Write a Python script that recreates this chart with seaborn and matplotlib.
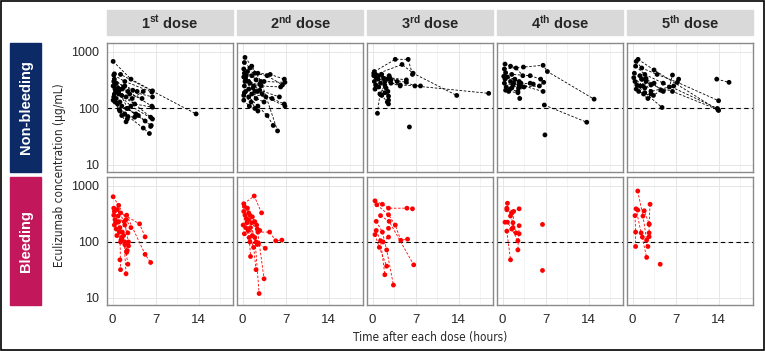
import numpy as np
import pandas as pd
import matplotlib
matplotlib.use("Agg")
import matplotlib.pyplot as plt
import seaborn as sns
from matplotlib.patches import Rectangle
from matplotlib.ticker import LogLocator, NullFormatter

sns.set_style("white")
plt.rcParams["font.family"] = ["Liberation Sans", "DejaVu Sans"]
plt.rcParams["mathtext.fontset"] = "custom"
plt.rcParams["mathtext.rm"] = "Liberation Sans"
plt.rcParams["mathtext.bf"] = "Liberation Sans:bold"

# ---------------------------
# data: one list of (time h, conc ug/mL) per patient, per panel
# ---------------------------
nb_dose1 = [
    [(0.1, 680), (3.0, 330), (6.5, 205)],
    [(0.3, 410), (1.3, 400), (13.6, 80)],
    [(0.2, 390), (2.0, 300), (6.4, 195)],
    [(0.2, 300), (1.5, 220), (6.5, 160)],
    [(0.3, 260), (2.5, 200), (6.4, 110)],
    [(0.1, 250), (1.0, 180), (3.6, 120), (6.5, 105)],
    [(0.4, 220), (2.2, 160), (6.2, 70)],
    [(0.5, 200), (3.0, 110), (6.5, 65)],
    [(0.3, 180), (1.5, 110), (4.2, 75), (6.3, 50)],
    [(0.6, 150), (2.3, 100), (5.3, 60), (6.2, 48)],
    [(0.8, 120), (2.0, 80), (5.0, 45), (6.0, 36)],
    [(0.2, 160), (1.1, 95), (2.4, 65)],
    [(0.4, 130), (1.5, 75), (2.2, 58)],
    [(0.6, 280), (2.0, 250), (4.0, 200)],
    [(0.9, 230), (2.8, 180), (4.8, 150)],
    [(1.0, 200), (2.5, 100), (3.8, 80)],
    [(0.3, 330), (1.8, 240), (3.3, 210)],
    [(1.2, 90), (2.5, 72), (3.6, 70)],
    [(0.1, 140), (1.2, 130)],
    [(1.5, 170), (3.2, 150), (5.0, 200)],
]
nb_dose2 = [
    [(0.4, 800), (1.5, 560), (3.0, 300), (5.7, 40)],
    [(0.3, 650), (1.2, 520), (2.5, 420), (4.5, 400), (6.8, 330)],
    [(0.2, 500), (2.0, 420), (4.0, 380), (6.5, 260)],
    [(0.3, 420), (1.5, 380), (3.5, 300), (6.9, 290)],
    [(0.2, 360), (1.0, 300), (3.0, 250), (6.2, 240)],
    [(0.4, 300), (2.0, 200), (4.8, 150), (6.8, 120)],
    [(0.3, 250), (1.5, 180), (3.8, 160), (6.9, 110)],
    [(0.5, 200), (1.0, 160), (2.5, 110), (4.0, 75), (5.0, 50)],
    [(0.2, 170), (1.4, 130), (2.5, 90)],
    [(0.6, 380), (1.8, 250), (3.2, 180)],
    [(0.8, 450), (2.2, 320), (3.0, 260)],
    [(1.0, 220), (2.2, 150), (3.5, 130)],
    [(0.2, 140), (1.1, 110), (2.0, 100)],
    [(0.5, 330), (2.8, 210), (6.0, 160)],
    [(1.2, 280), (2.4, 200)],
    [(0.3, 190), (1.7, 230), (2.8, 270)],
]
nb_dose3 = [
    [(0.3, 450), (3.7, 740), (5.8, 740), (6.5, 400)],
    [(0.5, 400), (4.8, 600), (6.6, 420), (13.7, 170)],
    [(0.2, 380), (2.5, 330), (5.5, 290), (6.9, 250), (18.9, 185)],
    [(0.6, 350), (2.0, 300), (4.5, 260), (7.8, 250)],
    [(0.3, 300), (1.0, 380), (2.8, 350), (5.5, 320)],
    [(0.8, 82), (1.2, 180), (2.0, 260)],
    [(0.4, 220), (1.5, 170), (2.4, 130)],
    [(0.9, 330), (2.2, 230), (2.6, 120)],
    [(1.3, 280), (2.5, 200), (2.6, 140)],
    [(0.2, 420), (1.8, 340), (3.0, 320)],
    [(1.0, 240), (2.0, 190), (2.6, 165)],
    [(6.0, 47)],
    [(0.5, 260), (2.7, 380), (4.0, 300)],
    [(1.5, 400), (3.0, 280), (4.5, 250)],
]
nb_dose4 = [
    [(0.4, 610), (1.3, 560), (2.2, 520), (3.3, 380)],
    [(0.3, 500), (3.4, 540), (6.6, 580), (7.3, 450), (14.9, 146)],
    [(0.5, 430), (1.5, 400), (4.5, 380), (6.2, 330)],
    [(0.4, 330), (1.3, 300), (2.8, 260), (6.6, 200)],
    [(6.8, 115), (13.7, 57)],
    [(0.3, 280), (1.7, 260), (3.0, 280), (5.0, 270)],
    [(0.6, 240), (1.2, 220), (2.5, 200), (4.5, 280)],
    [(0.8, 360), (2.7, 300), (3.5, 240)],
    [(1.0, 200), (2.5, 190), (2.8, 150)],
    [(0.2, 370), (2.0, 330), (2.6, 230)],
    [(6.9, 34)],
    [(1.8, 280), (2.8, 240), (6.0, 250), (6.7, 290)],
    [(0.5, 210), (1.5, 230), (2.7, 260)],
]
nb_dose5 = [
    [(0.9, 740), (3.5, 480), (14.0, 92)],
    [(0.6, 680), (1.5, 520), (4.0, 400), (7.3, 290), (14.0, 137)],
    [(0.5, 560), (2.0, 400), (5.0, 280), (13.8, 100)],
    [(0.3, 420), (1.5, 330), (3.0, 260), (6.5, 200), (13.9, 95)],
    [(0.4, 300), (1.2, 250), (2.2, 300), (3.5, 280)],
    [(0.6, 220), (1.8, 180), (3.4, 170), (4.6, 210)],
    [(1.2, 380), (2.2, 340), (5.0, 200), (6.7, 250), (7.5, 330)],
    [(0.7, 260), (2.0, 190), (4.8, 104)],
    [(1.5, 330), (3.0, 200), (6.0, 240), (6.5, 390)],
    [(13.7, 330), (15.7, 290)],
    [(1.0, 200), (2.5, 150), (3.0, 180)],
    [(0.2, 350), (1.7, 250), (2.0, 230)],
]
b_dose1 = [
    [(0.1, 640), (1.0, 450), (2.2, 250), (3.0, 180)],
    [(0.2, 400), (1.3, 330), (4.4, 210), (5.3, 123)],
    [(0.3, 350), (2.3, 300), (5.3, 60), (6.2, 43)],
    [(0.2, 300), (1.0, 230), (1.8, 130), (2.2, 27)],
    [(0.4, 250), (1.2, 180), (1.3, 32)],
    [(0.5, 220), (1.6, 150), (2.0, 90), (2.5, 40)],
    [(0.3, 200), (1.5, 120), (2.4, 70)],
    [(0.8, 380), (1.9, 230), (2.6, 100)],
    [(0.6, 170), (1.4, 110), (2.3, 65)],
    [(0.9, 290), (2.0, 200), (2.5, 145)],
    [(1.1, 150), (2.0, 100), (2.6, 85)],
    [(0.7, 130), (1.3, 100)],
    [(1.2, 48)],
]
b_dose2 = [
    [(0.2, 480), (1.9, 660), (3.1, 330)],
    [(0.3, 430), (1.2, 300), (2.4, 170), (3.5, 22)],
    [(0.2, 350), (1.0, 250), (2.0, 120), (2.7, 12)],
    [(0.4, 300), (1.5, 220), (2.5, 150), (4.4, 150), (5.4, 105), (6.4, 108)],
    [(0.6, 260), (1.3, 180), (2.2, 100), (3.7, 77)],
    [(0.1, 200), (0.9, 160), (1.8, 80), (2.2, 32)],
    [(0.5, 180), (1.1, 120), (1.3, 55)],
    [(0.8, 400), (1.6, 280), (2.3, 200)],
    [(0.3, 140), (1.2, 100), (2.4, 90)],
    [(0.7, 220), (1.6, 130), (2.6, 95)],
    [(1.0, 330), (2.0, 230), (2.8, 160)],
]
b_dose3 = [
    [(0.4, 540), (1.6, 470), (2.6, 400), (5.6, 400), (6.5, 390)],
    [(0.7, 460), (2.6, 305), (3.7, 200), (4.6, 107), (5.7, 112)],
    [(1.3, 295), (2.7, 233), (6.7, 39)],
    [(0.6, 233), (1.6, 150), (2.3, 72), (3.4, 17)],
    [(0.6, 160), (1.3, 105), (2.0, 26)],
    [(0.4, 135), (1.1, 80), (2.3, 37)],
    [(1.7, 100), (2.6, 122)],
    [(2.6, 175)],
]
b_dose4 = [
    [(0.8, 490), (1.3, 290), (1.7, 220), (2.2, 145)],
    [(0.7, 400), (1.8, 350), (1.7, 180), (2.7, 140)],
    [(0.7, 375), (1.5, 330), (2.7, 390)],
    [(0.4, 225), (0.8, 225), (1.5, 170), (2.5, 105)],
    [(0.7, 156), (1.3, 48)],
    [(2.7, 195), (2.5, 72)],
    [(6.5, 205)],
    [(6.5, 31)],
]
b_dose5 = [
    [(0.85, 810), (1.7, 290), (2.3, 108)],
    [(0.57, 390), (1.4, 145), (2.3, 53)],
    [(0.85, 370), (1.9, 360), (2.7, 210)],
    [(0.4, 295), (0.5, 150), (0.5, 83)],
    [(2.85, 470), (2.7, 205), (2.7, 145), (2.7, 124)],
    [(1.6, 122), (2.5, 83)],
    [(4.5, 40)],
]

groups = ["Non-bleeding", "Bleeding"]
dose_labels = [r"$\mathbf{1^{st}}$ dose", r"$\mathbf{2^{nd}}$ dose", r"$\mathbf{3^{rd}}$ dose",
               r"$\mathbf{4^{th}}$ dose", r"$\mathbf{5^{th}}$ dose"]
panels = {
    "Non-bleeding": [nb_dose1, nb_dose2, nb_dose3, nb_dose4, nb_dose5],
    "Bleeding": [b_dose1, b_dose2, b_dose3, b_dose4, b_dose5],
}
colors = {"Non-bleeding": "black", "Bleeding": "#ff0000"}
box_colors = {"Non-bleeding": "#0c2a66", "Bleeding": "#c2185b"}

rows = []
for g in groups:
    for d, pats in enumerate(panels[g]):
        for p, pts in enumerate(pats):
            for t, c in pts:
                rows.append({"group": g, "dose": d, "pid": p, "time": t, "conc": c})
df = pd.DataFrame(rows)

# ---------------------------
# figure
# ---------------------------
W, H = 765, 351
fig = plt.figure(figsize=(W / 100, H / 100), dpi=100)

def fx(px):
    return px / W

def fy(py):
    return 1 - py / H

col_left = [107 + 130 * k for k in range(5)]
col_w = 126
row_top = [43, 177]
row_bot = [172, 305]

fig.patches.append(Rectangle((fx(1), fy(350)), fx(763), 349 / H, transform=fig.transFigure,
                             fill=False, edgecolor="black", lw=1.2))

for i, g in enumerate(groups):
    # row label box
    fig.patches.append(Rectangle((fx(10), fy(row_bot[i])), fx(31), (row_bot[i] - row_top[i]) / H,
                                 transform=fig.transFigure, color=box_colors[g]))
    fig.text(fx(25.5), fy((row_top[i] + row_bot[i]) / 2), g, rotation=90, color="white",
             fontsize=10.5, fontweight="bold", ha="center", va="center")
    for d in range(5):
        ax = fig.add_axes([fx(col_left[d]), fy(row_bot[i]), fx(col_w), (row_bot[i] - row_top[i]) / H])
        sub = df[(df["group"] == g) & (df["dose"] == d)]
        ax.axhline(100, color="black", lw=0.8, ls=(0, (4, 3)), zorder=2)
        sns.lineplot(data=sub, x="time", y="conc", units="pid", estimator=None, sort=False,
                     color=colors[g], lw=0.6, ls=(0, (3, 2)), ax=ax, zorder=3)
        sns.scatterplot(data=sub, x="time", y="conc", color=colors[g], s=12,
                        edgecolor="none", ax=ax, zorder=4)
        ax.set_yscale("log")
        ax.set_ylim(7.5, 1440)
        ax.set_xlim(-0.9, 19.6)
        ax.set_xticks([0, 7, 14])
        ax.set_xticks([3.5, 10.5, 17.5], minor=True)
        ax.set_yticks([10, 100, 1000])
        ax.yaxis.set_minor_locator(LogLocator(base=10, subs=np.arange(2, 10)))
        ax.yaxis.set_minor_formatter(NullFormatter())
        ax.grid(True, which="major", color="#e6e6e6", lw=0.7)
        ax.grid(True, which="minor", axis="x", color="#f0f0f0", lw=0.5)
        ax.set_axisbelow(True)
        ax.set_xlabel("")
        ax.set_ylabel("")
        for sp in ax.spines.values():
            sp.set_color("#8a8a8a")
            sp.set_linewidth(1.0)
        ax.tick_params(axis="y", which="major", direction="inout", length=7, width=0.9,
                       color="#333333", labelsize=9, pad=2)
        ax.tick_params(axis="y", which="minor", direction="inout", length=4, width=0.6,
                       color="#555555")
        ax.tick_params(axis="x", which="major", direction="out", length=3, width=0.8,
                       color="#555555", labelsize=9.5)
        ax.tick_params(axis="x", which="minor", length=0)
        if d == 0:
            ax.set_yticklabels(["10", "100", "1000"])
        else:
            ax.set_yticklabels([])
        if i == 0:
            ax.set_xticklabels([])

# strip headers
for d in range(5):
    fig.patches.append(Rectangle((fx(col_left[d]), fy(35)), fx(col_w), 25 / H,
                                 transform=fig.transFigure, color="#d9d9d9"))
    fig.text(fx(col_left[d] + col_w / 2), fy(22.5), dose_labels[d], fontsize=10.5,
             fontweight="bold", ha="center", va="center")

fig.text(fx(60), fy(175), "Eculizumab concentration (\u03bcg/mL)", rotation=90,
         fontsize=8.5, ha="center", va="center", family="DejaVu Sans", fontstretch="condensed")
fig.text(fx(430), fy(337), "Time after each dose (hours)", fontsize=8.5,
         ha="center", va="center", family="DejaVu Sans", fontstretch="condensed")

fig.savefig("out.png", dpi=100)
